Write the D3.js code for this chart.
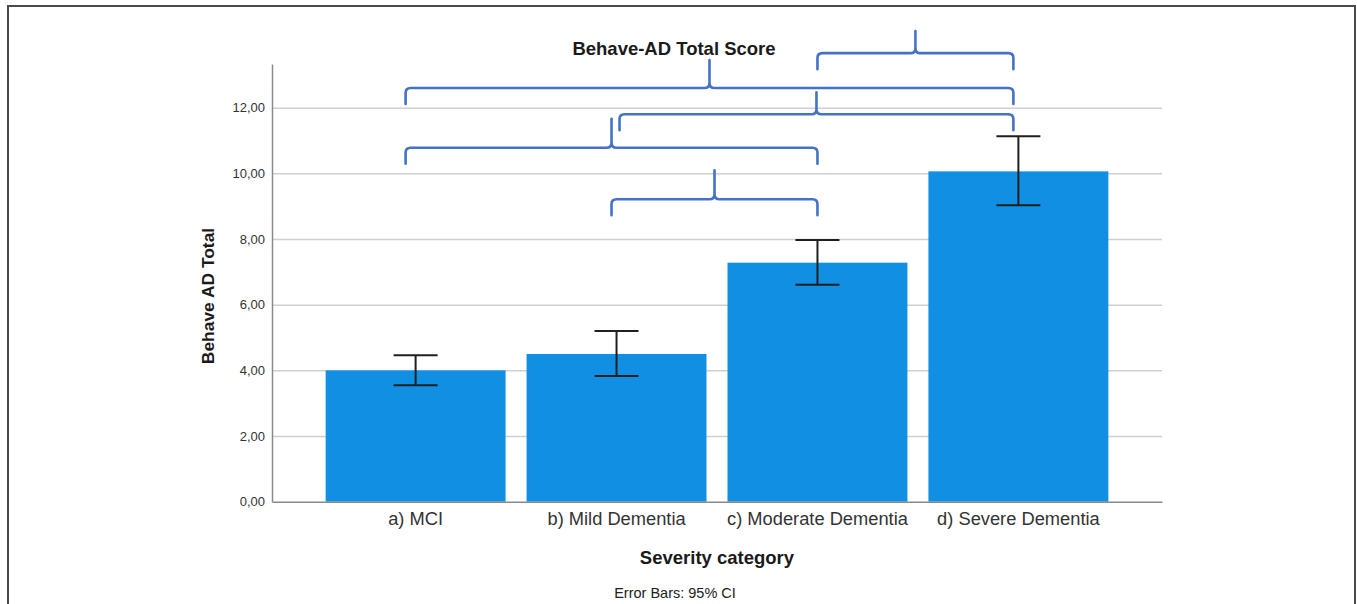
<!DOCTYPE html>
<html>
<head>
<meta charset="utf-8">
<script src="https://cdn.jsdelivr.net/npm/d3@7"></script>
<style>
  html, body { margin: 0; padding: 0; background: #fff; }
  svg { display: block; font-family: "Liberation Sans", Arial, sans-serif; }
</style>
</head>
<body>
<svg id="chart" width="1357" height="604"></svg>
<script>
// Behave-AD total score by dementia severity (means with 95% CI)
const categories = ["a) MCI", "b) Mild Dementia", "c) Moderate Dementia", "d) Severe Dementia"];
const means   = [4.00, 4.50, 7.28, 10.06];
const ciLow   = [3.55, 3.83, 6.61, 9.03];
const ciHigh  = [4.46, 5.20, 7.97, 11.13];
const yTicks  = [0, 2, 4, 6, 8, 10, 12];

// Significance brackets: pair of groups and the score level of the bar
const bracketFrom  = ["c) Moderate Dementia", "a) MCI", "b) Mild Dementia", "a) MCI", "b) Mild Dementia"];
const bracketTo    = ["d) Severe Dementia", "d) Severe Dementia", "d) Severe Dementia", "c) Moderate Dementia", "c) Moderate Dementia"];
const bracketLevel = [13.66, 12.60, 11.80, 10.78, 9.21];

const titleText = "Behave-AD Total Score";
const xTitle = "Severity category";
const yTitle = "Behave AD Total";
const footNote = "Error Bars: 95% CI";

const svg = d3.select("#chart");

// outer frame
svg.append("rect")
  .attr("x", 8).attr("y", 6)
  .attr("width", 1347).attr("height", 620)
  .attr("fill", "none").attr("stroke", "#4a4a4a").attr("stroke-width", 2);

const plot = { left: 272, right: 1162, top: 64, bottom: 501.7 };

const x = d3.scaleBand()
  .domain(categories)
  .range([plot.left, plot.right])
  .paddingInner(0.1045)
  .paddingOuter(0.267);

const y = d3.scaleLinear()
  .domain([0, 13.33])
  .range([plot.bottom, plot.top]);

const locale = d3.formatLocale({ decimal: ",", thousands: ".", grouping: [3], currency: ["", ""] });
const fmt = locale.format(".2f");

// gridlines
const grid = svg.append("g")
  .attr("transform", `translate(${plot.left},0)`)
  .call(d3.axisLeft(y).tickValues(yTicks.filter(v => v > 0)).tickSize(-(plot.right - plot.left)).tickFormat(""));
grid.select(".domain").remove();
grid.selectAll(".tick line").attr("stroke", "#cfcfcf").attr("stroke-width", 1.5);

// bars
svg.append("g").selectAll("rect")
  .data(categories)
  .join("rect")
  .attr("x", d => x(d))
  .attr("width", x.bandwidth())
  .attr("y", (d, i) => y(means[i]))
  .attr("height", (d, i) => y(0) - y(means[i]))
  .attr("fill", "#1190e3");

// y axis
const yAxis = svg.append("g")
  .attr("transform", `translate(${plot.left},0)`)
  .call(d3.axisLeft(y).tickValues(yTicks).tickFormat(fmt).tickSize(0).tickSizeOuter(0).tickPadding(7));
yAxis.select(".domain").attr("stroke", "#8a8a8a").attr("stroke-width", 1.5);
yAxis.selectAll(".tick text")
  .attr("font-size", 13).attr("fill", "#333")
  .attr("font-family", "Liberation Sans, Arial, sans-serif");

// x axis
const xAxis = svg.append("g")
  .attr("transform", `translate(0,${plot.bottom})`)
  .call(d3.axisBottom(x).tickSize(0).tickSizeOuter(0).tickPadding(10));
xAxis.select(".domain").attr("stroke", "#8a8a8a").attr("stroke-width", 1.5);
xAxis.selectAll(".tick text")
  .attr("font-size", 18.3).attr("fill", "#333")
  .attr("font-family", "Liberation Sans, Arial, sans-serif");

// error bars
const capHalf = 22;
const eb = svg.append("g").attr("stroke", "#1f1f1f").attr("stroke-width", 2).attr("fill", "none");
categories.forEach((c, i) => {
  const cx = x(c) + x.bandwidth() / 2;
  eb.append("line").attr("x1", cx).attr("x2", cx).attr("y1", y(ciLow[i])).attr("y2", y(ciHigh[i]));
  eb.append("line").attr("x1", cx - capHalf).attr("x2", cx + capHalf).attr("y1", y(ciHigh[i])).attr("y2", y(ciHigh[i]));
  eb.append("line").attr("x1", cx - capHalf).attr("x2", cx + capHalf).attr("y1", y(ciLow[i])).attr("y2", y(ciLow[i]));
});

// brackets
const endDrop = 16, r = 5;
const tickRise = [22, 28, 22, 29, 29];
const endShift = { "a) MCI": -10, "b) Mild Dementia": -5, "c) Moderate Dementia": 0, "d) Severe Dementia": -5 };
const brackets = svg.append("g")
  .attr("fill", "none").attr("stroke", "#4472c4")
  .attr("stroke-width", 2.6).attr("stroke-linecap", "round").attr("stroke-linejoin", "round");
bracketFrom.forEach((from, i) => {
  const to = bracketTo[i];
  let x0 = x(from) + x.bandwidth() / 2 + endShift[from];
  if (i === 2) x0 += 8;
  const x1 = x(to) + x.bandwidth() / 2 + endShift[to];
  const xm = (x0 + x1) / 2;
  const yh = y(bracketLevel[i]);
  const p = d3.path();
  p.moveTo(x0, yh + endDrop);
  p.lineTo(x0, yh + r);
  p.quadraticCurveTo(x0, yh, x0 + r, yh);
  p.lineTo(xm - r, yh);
  p.quadraticCurveTo(xm, yh, xm, yh - r);
  p.lineTo(xm, yh - tickRise[i]);
  p.moveTo(xm, yh - r);
  p.quadraticCurveTo(xm, yh, xm + r, yh);
  p.lineTo(x1 - r, yh);
  p.quadraticCurveTo(x1, yh, x1, yh + r);
  p.lineTo(x1, yh + endDrop);
  brackets.append("path").attr("d", p.toString());
});

// titles
svg.append("text")
  .attr("x", 674).attr("y", 55)
  .attr("text-anchor", "middle")
  .attr("font-size", 18.5).attr("font-weight", "bold").attr("fill", "#1a1a1a")
  .text(titleText);

svg.append("text")
  .attr("transform", `translate(214,${296}) rotate(-90)`)
  .attr("text-anchor", "middle")
  .attr("font-size", 17.4).attr("font-weight", "bold").attr("fill", "#1a1a1a")
  .text(yTitle);

svg.append("text")
  .attr("x", 717).attr("y", 564)
  .attr("text-anchor", "middle")
  .attr("font-size", 18.5).attr("font-weight", "bold").attr("fill", "#1a1a1a")
  .text(xTitle);

svg.append("text")
  .attr("x", 675).attr("y", 598)
  .attr("text-anchor", "middle")
  .attr("font-size", 14.5).attr("fill", "#222")
  .text(footNote);
</script>
</body>
</html>
